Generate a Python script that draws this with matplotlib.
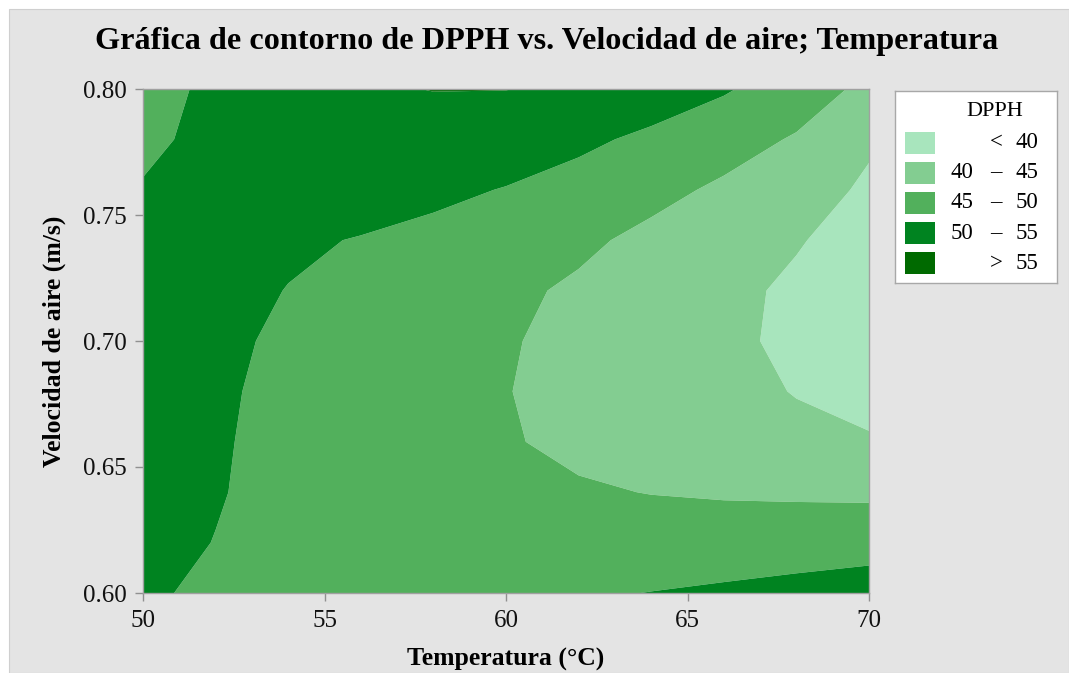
import numpy as np
import matplotlib
matplotlib.use("Agg")
import matplotlib.pyplot as plt
from matplotlib.patches import Rectangle

# ---- data ----
temperatura = [50, 52, 54, 56, 58, 60, 62, 64, 66, 68, 70]
velocidad = [0.60, 0.62, 0.64, 0.66, 0.68, 0.70, 0.72, 0.74, 0.76, 0.78, 0.80]
# rows follow velocidad (0.60 -> 0.80), columns follow temperatura
dpph = [
    [50.6, 49.2, 48.6, 48.4, 48.5, 48.8, 49.4, 50.1, 50.8, 51.6, 52.4],  # 0.60
    [51.4, 49.9, 48.7, 48.0, 47.5, 47.1, 46.9, 46.9, 47.1, 47.5, 48.0],  # 0.62
    [51.6, 50.3, 48.6, 47.6, 46.7, 45.9, 45.4, 44.9, 44.6, 44.4, 44.2],  # 0.64
    [51.9, 50.5, 48.6, 47.5, 46.4, 45.3, 44.2, 43.1, 42.1, 41.2, 40.5],  # 0.66
    [52.1, 50.7, 48.8, 47.6, 46.3, 45.1, 44.0, 42.8, 41.4, 39.8, 38.2],  # 0.68
    [52.2, 51.0, 49.2, 47.9, 46.6, 45.3, 44.0, 42.5, 40.8, 39.2, 37.5],  # 0.70
    [52.0, 51.2, 49.9, 48.6, 47.3, 45.8, 44.4, 42.8, 41.0, 39.3, 37.6],  # 0.72
    [51.5, 51.3, 50.6, 49.8, 48.8, 47.5, 45.8, 44.0, 42.3, 40.3, 38.3],  # 0.74
    [50.2, 51.3, 52.0, 51.9, 51.0, 49.8, 48.2, 46.2, 44.3, 42.3, 39.2],  # 0.76
    [49.4, 50.8, 52.2, 53.0, 53.2, 52.6, 51.0, 49.0, 46.8, 44.6, 40.7],  # 0.78
    [48.2, 51.0, 53.1, 54.5, 55.1, 55.07, 54.3, 52.8, 50.5, 47.4, 43.9],  # 0.80
]
niveles = [30, 40, 45, 50, 55, 60]
etiquetas_izq = ["", "40", "45", "50", ""]
etiquetas_sep = ["<", "\u2013", "\u2013", "\u2013", ">"]
etiquetas_der = ["40", "45", "50", "55", "55"]
colores = ["#a8e5bd", "#83cd91", "#52b05c", "#008320", "#006a00"]
xticks = [50, 55, 60, 65, 70]
yticks = [0.60, 0.65, 0.70, 0.75, 0.80]

W, H = 1069, 673
plt.rcParams['font.family'] = ['Liberation Serif', 'DejaVu Serif']
fig = plt.figure(figsize=(W / 100, H / 100), dpi=100)
fig.patch.set_facecolor("white")
fig.patches.append(Rectangle((9 / W, 0), 1 - 9 / W, 1 - 9 / H, transform=fig.transFigure,
                             facecolor="#e4e4e4", edgecolor="#cfcfcf", linewidth=0.8, zorder=-10))

ax = fig.add_axes([143 / W, 1 - 593 / H, (869 - 143) / W, (593 - 89) / H])
T, V = np.meshgrid(temperatura, velocidad)
Z = np.array(dpph)
ax.contourf(T, V, Z, levels=niveles, colors=colores, antialiased=True)
ax.set_xlim(50, 70)
ax.set_ylim(0.60, 0.80)
ax.set_xticks(xticks)
ax.set_yticks(yticks)
ax.set_xticklabels([f"{t}" for t in xticks])
ax.set_yticklabels([f"{v:.2f}" for v in yticks])
ax.tick_params(axis="both", direction="out", length=6, width=1, color="#909090",
               labelsize=18, pad=6, labelcolor="#111111")
for s in ax.spines.values():
    s.set_color("#a0a0a0")
    s.set_linewidth(1.0)
ax.set_xlabel("Temperatura (°C)", fontsize=18.5, fontweight="bold", labelpad=12)
ax.set_ylabel("Velocidad de aire (m/s)", fontsize=18.5, fontweight="bold", labelpad=12)

fig.text(547 / W, 1 - 42 / H, "Gráfica de contorno de DPPH vs. Velocidad de aire; Temperatura",
         ha="center", va="center", fontsize=23.2, fontweight="bold")

# ---- legend box ----
lg = fig.add_axes([895 / W, 1 - 283 / H, (1057 - 895) / W, (283 - 91) / H])
lg.set_xlim(0, 162)
lg.set_ylim(192, 0)
lg.set_xticks([])
lg.set_yticks([])
lg.set_facecolor("white")
for s in lg.spines.values():
    s.set_color("#a8a8a8")
    s.set_linewidth(1.0)
lg.text(100, 20, "DPPH", ha="center", va="center", fontsize=16)
for i in range(len(colores)):
    yc = 51.5 + i * 30.2
    lg.add_patch(Rectangle((10, yc - 11), 30, 22, facecolor=colores[i], edgecolor="none"))
    if etiquetas_izq[i]:
        lg.text(78, yc, etiquetas_izq[i], ha="right", va="center", fontsize=16.5)
    lg.text(101, yc, etiquetas_sep[i], ha="center", va="center", fontsize=16.5)
    lg.text(143, yc, etiquetas_der[i], ha="right", va="center", fontsize=16.5)

fig.savefig("out.png", dpi=100, facecolor=fig.get_facecolor())
